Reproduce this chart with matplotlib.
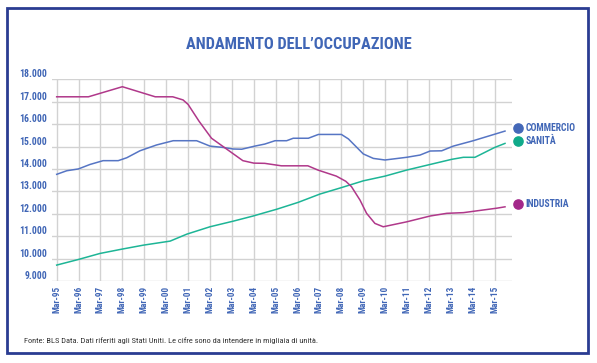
import matplotlib
matplotlib.use("Agg")
import matplotlib.pyplot as plt
import matplotlib.transforms as mtransforms
from matplotlib.patches import Rectangle

plt.rcParams['font.family'] = ['Roboto Condensed', 'DejaVu Sans']
plt.rcParams['font.stretch'] = 'condensed'

# anni dal Mar-95 (frazione di anno) e valori in migliaia
ind_t = [0, 1.45, 3.0, 4.5, 5.3, 5.77, 6.0, 6.5, 7.07, 8.5, 9.0, 9.5, 10.26, 11.47, 11.93,
         12.77, 13.2, 13.46, 13.85, 14.15, 14.53, 14.91, 15.98, 17.05, 17.81, 18.57, 19.18,
         20.1, 20.47]
ind_v = [17220, 17220, 17670, 17220, 17220, 17080, 16880, 16130, 15370, 14370, 14260, 14250,
         14140, 14140, 13950, 13680, 13450, 13210, 12610, 12020, 11570, 11420, 11640, 11900,
         12020, 12050, 12130, 12250, 12310]

com_t = [0, 0.46, 0.99, 1.52, 2.12, 2.81, 3.2, 3.8, 4.56, 5.32, 6.39, 7.0, 7.6, 8.06, 8.45,
         9.05, 9.5, 9.97, 10.5, 10.8, 11.49, 11.95, 13.0, 13.32, 14.0, 14.46, 14.99, 15.98,
         16.59, 17.05, 17.58, 18.11, 19.02, 20.47]
com_v = [13760, 13920, 14000, 14200, 14370, 14370, 14500, 14810, 15070, 15260, 15260, 15020,
         14960, 14890, 14880, 15020, 15110, 15260, 15260, 15370, 15370, 15540, 15540, 15340,
         14670, 14470, 14400, 14520, 14620, 14800, 14810, 15020, 15260, 15690]

san_t = [0, 0.99, 1.98, 2.97, 3.96, 5.18, 5.94, 7.0, 8.06, 8.97, 9.5, 10.04, 11.03, 12.02,
         13.01, 14.0, 14.99, 15.98, 17.05, 18.04, 18.57, 19.1, 20.0, 20.47]
san_v = [9710, 9960, 10230, 10420, 10600, 10780, 11090, 11420, 11670, 11900, 12050, 12200,
         12510, 12880, 13170, 13470, 13680, 13950, 14200, 14430, 14520, 14520, 14960, 15140]

years = list(range(1995, 2016))
xlabels = ["Mar-%02d" % (y % 100) for y in years]
yticks = list(range(9000, 18001, 1000))
ylabels = ["%d.000" % (v // 1000) for v in yticks]

blue_txt = "#4066b6"
c_com = "#5675c4"
c_san = "#1db596"
c_ind = "#b0388a"
dot_com = "#4468b8"
dot_san = "#10aa8a"
dot_ind = "#a3288a"

fig = plt.figure(figsize=(5.97, 3.63), dpi=100)
ax = fig.add_axes([0.0876, 0.2259, 0.7704, 0.5556])

ax.plot(com_t, com_v, color=c_com, lw=1.1)
ax.plot(san_t, san_v, color=c_san, lw=1.1)
ax.plot(ind_t, ind_v, color=c_ind, lw=1.1)

ax.set_xlim(-0.2, 20.8)
ax.set_ylim(9000, 18000)
ax.set_xticks(range(len(years)))
ax.set_xticklabels(xlabels, rotation=90, fontsize=6.7, fontweight='bold', color=blue_txt)
ax.set_yticks(yticks)
ax.set_yticklabels(ylabels, fontsize=7.0, fontweight='bold', color=blue_txt)
ax.tick_params(length=0, pad=3.5)
ax.grid(True, color="#d2d2d2", lw=1.0)
ax.set_axisbelow(True)
for s in ax.spines.values():
    s.set_visible(False)

# le etichette dell'asse y stanno un po' sopra le linee
off = mtransforms.ScaledTranslation(0, 0.06, fig.dpi_scale_trans)
for lab in ax.get_yticklabels():
    lab.set_transform(lab.get_transform() + off)

# legenda a destra, accanto alla fine di ogni serie
legend = [("COMMERCIO", com_v[-1] + 130, dot_com),
          ("SANITÀ", san_v[-1] + 100, dot_san),
          ("INDUSTRIA", ind_v[-1] + 110, dot_ind)]
for name, yv, col in legend:
    ax.scatter([21.05], [yv], s=44, color=col, clip_on=False, zorder=5)
    ax.text(21.4, yv, name, color=blue_txt, fontsize=7.0, fontweight='bold',
            va='center', ha='left', clip_on=False)

fig.text(0.500, 0.878, "ANDAMENTO DELL’OCCUPAZIONE", ha='center', va='center',
         fontsize=11.8, fontweight='bold', color=blue_txt)
fig.text(0.040, 0.063, "Fonte: BLS Data. Dati riferiti agli Stati Uniti. Le cifre sono da "
         "intendere in migliaia di unità.", ha='left', va='center', fontsize=6.0,
         color="#333333")

fig.patches.append(Rectangle((0.0117, 0.0275), 0.9733, 0.9505, transform=fig.transFigure,
                             fill=False, edgecolor="#2a3c92", lw=2.0))

fig.savefig("out.png", dpi=100)
